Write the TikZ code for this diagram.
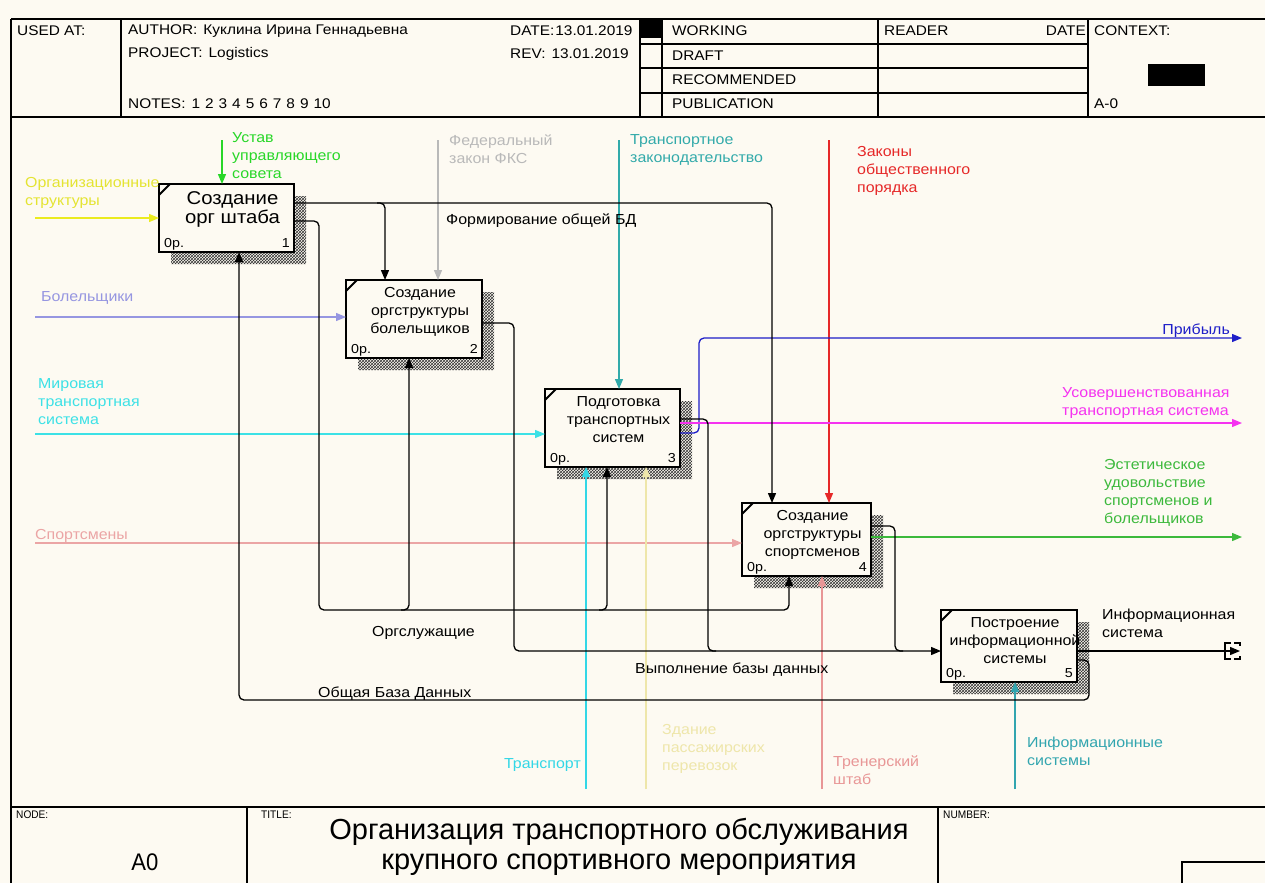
\documentclass[tikz,border=0pt]{standalone}
\usepackage{fontspec}
\setmainfont[FakeStretch=1.1]{Liberation Sans}
\newfontfamily\narrowfont[FakeStretch=0.92]{Liberation Sans}
\newfontfamily\titlefont[FakeStretch=1.0]{Liberation Sans}
\usetikzlibrary{arrows.meta,calc,patterns,backgrounds}

\definecolor{paper}{RGB}{253,250,242}
\definecolor{yelline}{RGB}{235,235,30}
\definecolor{yeltext}{RGB}{228,228,50}
\definecolor{greenctl}{RGB}{40,215,40}
\definecolor{grayctl}{RGB}{185,185,185}
\definecolor{tealctl}{RGB}{50,170,170}
\definecolor{redctl}{RGB}{230,40,40}
\definecolor{lav}{RGB}{150,150,225}
\definecolor{cyanin}{RGB}{60,225,230}
\definecolor{pinkin}{RGB}{235,165,165}
\definecolor{blueout}{RGB}{30,30,200}
\definecolor{magout}{RGB}{245,50,240}
\definecolor{greenout}{RGB}{60,185,60}
\definecolor{paleyel}{RGB}{238,230,170}
\definecolor{tealmech}{RGB}{50,165,175}
\definecolor{cyanmech}{RGB}{50,215,230}
\definecolor{pinkmech}{RGB}{232,150,150}

% IDEF0 function block: name, left, top, width, height, text, number, font
\newcommand\fnbox[8]{%
  \node[fn, minimum width=#4pt, minimum height=#5pt] (#1) at (#2,#3) {};
  \begin{scope}[on background layer]
    \fill[shade] ($(#1.north east)+(0,12)$) -- ($(#1.north east)+(12,12)$)
      -- ($(#1.south east)+(12,12)$) -- ($(#1.south west)+(12,12)$)
      -- ($(#1.south west)+(12,0)$) -- (#1.south east) -- cycle;
  \end{scope}
  \draw[line width=2pt] ($(#1.north west)+(0,11)$) -- ($(#1.north west)+(11,0)$);
  \node[inner sep=0pt, anchor=north, align=center, font=#8] (#1-t) at ($(#1.north)+(6,7)$) {#6};
  \node[inner sep=0pt, anchor=base west, font=\fontsize{13}{13}\selectfont] (#1-c) at ($(#1.south west)+(5,-5)$) {0р.};
  \node[inner sep=0pt, anchor=base east, font=\fontsize{13}{13}\selectfont] (#1-n) at ($(#1.south east)+(-4,-5)$) {#7};
}

\begin{document}
\begin{tikzpicture}[x=1pt,y=-1pt,
  conn/.style={line width=1.3pt, rounded corners=5pt},
  tip/.style={-{Triangle[length=10pt,width=8pt]}},
  fn/.style={draw, line width=2.6pt, fill=paper, inner sep=0pt, outer sep=0pt, anchor=north west},
  shade/.style={pattern=crosshatch, pattern color=black!80},
  lbl/.style={inner sep=0pt, anchor=north west, align=left, font=\fontsize{14.5}{18}\selectfont},
  hdr/.style={inner sep=0pt, anchor=west, font=\fontsize{14}{15}\selectfont},
  frame/.style={line width=1.3pt},
  small/.style={inner sep=0pt, anchor=north west, font=\narrowfont\fontsize{11}{12}\selectfont}]

\useasboundingbox (0,0) rectangle (1265,883);
\begin{scope}[on background layer]
  \fill[paper] (0,0) rectangle (1265,883);
\end{scope}

% ---------- header ----------
\node[hdr] (usedat) at (17,31) {USED AT:};
\node[hdr] (author) at (128,31) {AUTHOR:\hspace{6pt}Куклина Ирина Геннадьевна};
\node[hdr] (project) at (128,54) {PROJECT:\hspace{6pt}Logistics};
\node[hdr] (notes) at (128,104) {NOTES:\hspace{6pt}1\hspace{5pt}2\hspace{5pt}3\hspace{5pt}4\hspace{5pt}5\hspace{5pt}6\hspace{5pt}7\hspace{5pt}8\hspace{5pt}9\hspace{5pt}10};
\node[hdr] (date) at (510,31) {DATE:\hspace{1pt}13.01.2019};
\node[hdr] (rev) at (510,54) {REV:\hspace{6pt}13.01.2019};
\fill (640,19) rectangle (662,38);
\node[hdr] (working) at (672,31) {WORKING};
\node[hdr] (draft) at (672,56) {DRAFT};
\node[hdr] (recom) at (672,80) {RECOMMENDED};
\node[hdr] (publ) at (672,104) {PUBLICATION};
\node[hdr] (reader) at (884,31) {READER};
\node[hdr, anchor=east] (rdate) at (1086,31) {DATE};
\node[hdr] (context) at (1094,31) {CONTEXT:};
\node[hdr] (azero) at (1094,104) {A-0};
\fill (1148,64) rectangle (1205,86);

\draw[line width=1.8pt] (11,19) -- (1265,19);
\draw[line width=1.8pt] (11,117) -- (1265,117);
\draw[frame] (121,19) -- (121,117);
\draw[frame] (640,19) -- (640,117);
\draw[frame] (662,19) -- (662,117);
\draw[frame] (878,19) -- (878,117);
\draw[frame] (1088,19) -- (1088,117);
\draw[frame] (640,44) -- (1088,44);
\draw[frame] (640,68) -- (1088,68);
\draw[frame] (640,93) -- (1088,93);
\draw[line width=2pt] (11,19) -- (11,883);

% ---------- footer ----------
\draw[line width=2pt] (11,807) -- (1265,807);
\draw[frame] (247,807) -- (247,883);
\draw[frame] (938,807) -- (938,883);
\draw[frame] (1182,883) -- (1182,862) -- (1265,862);
\node[small] (nodelbl) at (16,811) {NODE:};
\node[small] (titlelbl) at (261,811) {TITLE:};
\node[small] (numlbl) at (943,811) {NUMBER:};
\node[inner sep=0pt, font=\narrowfont\fontsize{24}{24}\selectfont] (nodeid) at (145,862) {A0};
\node[inner sep=0pt, align=center, font=\titlefont\fontsize{29}{30}\selectfont] (title) at (619,847)
  {Организация транспортного обслуживания\\крупного спортивного мероприятия};

% ---------- function blocks ----------
\fnbox{b1}{159}{184}{135}{68}{Создание\\орг штаба}{1}{\fontsize{18.5}{19}\selectfont}
\fnbox{b2}{346}{280}{136}{78}{Создание\\оргструктуры\\болельщиков}{2}{\fontsize{14.5}{18}\selectfont}
\fnbox{b3}{545}{389}{135}{78}{Подготовка\\транспортных\\систем}{3}{\fontsize{14.5}{18}\selectfont}
\fnbox{b4}{742}{503}{129}{73}{Создание\\оргструктуры\\спортсменов}{4}{\fontsize{14.5}{18}\selectfont}
\fnbox{b5}{941}{610}{136}{72}{Построение\\информационной\\системы}{5}{\fontsize{14.5}{18}\selectfont}

% ---------- inputs ----------
\coordinate (in1) at (35,218);
\draw[conn,tip,yelline] (in1) -- (b1.west |- in1);
\coordinate (in2) at (35,317);
\draw[conn,tip,lav] (in2) -- (b2.west |- in2);
\coordinate (in3) at (35,434);
\draw[conn,tip,cyanin] (in3) -- (b3.west |- in3);
\coordinate (in4) at (35,543);
\draw[conn,tip,pinkin] (in4) -- (b4.west |- in4);

% ---------- controls ----------
\coordinate (ct1) at (222,140);
\draw[conn,tip,greenctl] (ct1) -- (ct1 |- b1.north);
\coordinate (ct2) at (438,140);
\draw[conn,tip,grayctl] (ct2) -- (ct2 |- b2.north);
\coordinate (ct3) at (619,140);
\draw[conn,tip,tealctl] (ct3) -- (ct3 |- b3.north);
\coordinate (ct4) at (829,140);
\draw[conn,tip,redctl] (ct4) -- (ct4 |- b4.north);

% ---------- mechanisms ----------
\coordinate (mc1) at (586,789);
\draw[conn,tip,cyanmech] (mc1) -- (mc1 |- b3.south);
\coordinate (mc2) at (646,789);
\draw[conn,tip,paleyel] (mc2) -- (mc2 |- b3.south);
\coordinate (mc3) at (822,789);
\draw[conn,tip,pinkmech] (mc3) -- (mc3 |- b4.south);
\coordinate (mc4) at (1015,789);
\draw[conn,tip,tealmech] (mc4) -- (mc4 |- b5.south);

% ---------- outputs ----------
\coordinate (pr1) at (699,433);
\coordinate (pr2) at (699,338);
\coordinate (pr3) at (1242,338);
\draw[conn,tip,blueout] (b3.east |- pr1) -- (pr1) -- (pr2) -- (pr3);
\coordinate (ts) at (1242,423);
\draw[conn,tip,magout] (b3.east |- ts) -- (ts);
\coordinate (es) at (1242,537);
\draw[conn,tip,greenout] (b4.east |- es) -- (es);
\coordinate (is) at (1240,651);
\draw[conn,tip] (b5.east |- is) -- (is);
\draw[line width=1.3pt] (1231,643) -- (1225,643) -- (1225,659) -- (1231,659);
\draw[line width=1.3pt] (1234,643) -- (1240,643) -- (1240,646);
\draw[line width=1.3pt] (1240,656) -- (1240,659) -- (1234,659);

% ---------- internal flows ----------
\coordinate (fa) at (772,203);
\coordinate (fb) at (385,203);
\coordinate (fb0) at (377,203);
\draw[conn,tip] (b1.east |- fa) -- (fa) -- (fa |- b4.north);
\draw[conn,tip] (fb0) -- (fb) -- (fb |- b2.north);

\coordinate (oa) at (319,221);
\coordinate (ob) at (319,610);
\coordinate (oc) at (789,610);
\draw[conn,tip] (b1.east |- oa) -- (oa) -- (ob) -- (oc) -- (oc |- b4.south);
\coordinate (od) at (409,610);
\coordinate (od0) at (401,610);
\draw[conn,tip] (od0) -- (od) -- (od |- b2.south);
\coordinate (oe) at (607,610);
\coordinate (oe0) at (599,610);
\draw[conn,tip] (oe0) -- (oe) -- (oe |- b3.south);

\coordinate (va) at (514,323);
\coordinate (vb) at (514,651);
\draw[conn,tip] (b2.east |- va) -- (va) -- (vb) -- (b5.west |- vb);
\coordinate (vc) at (708,419);
\coordinate (vd) at (708,651);
\coordinate (vd1) at (716,651);
\draw[conn] (b3.east |- vc) -- (vc) -- (vd) -- (vd1);
\coordinate (ve) at (895,526);
\coordinate (vf) at (895,651);
\coordinate (vf1) at (903,651);
\draw[conn] (b4.east |- ve) -- (ve) -- (vf) -- (vf1);

\coordinate (ga) at (1089,660);
\coordinate (gb) at (1089,700);
\coordinate (gc) at (239,700);
\draw[conn,tip] (b5.east |- ga) -- (ga) -- (gb) -- (gc) -- (gc |- b1.south);

% ---------- arrow labels ----------
\node[lbl, yeltext] (l-org) at (25,177) {Организационные\\структуры};
\node[lbl, greenctl] (l-ust) at (232,132) {Устав\\управляющего\\совета};
\node[lbl, lav] (l-bol) at (41,291) {Болельщики};
\node[lbl, grayctl] (l-fed) at (449,135) {Федеральный\\закон ФКС};
\node[lbl, tealctl] (l-trz) at (630,134) {Транспортное\\законодательство};
\node[lbl, redctl] (l-zak) at (857,146) {Законы\\общественного\\порядка};
\node[lbl, cyanin] (l-mir) at (38,378) {Мировая\\транспортная\\система};
\node[lbl, pinkin] (l-spo) at (35,529) {Спортсмены};
\node[lbl, blueout, anchor=north east] (l-pri) at (1230,324) {Прибыль};
\node[lbl, magout] (l-usv) at (1062,387) {Усовершенствованная\\транспортная система};
\node[lbl, greenout] (l-est) at (1104,459) {Эстетическое\\удовольствие\\спортсменов и\\болельщиков};
\node[lbl] (l-ins) at (1102,609) {Информационная\\система};
\node[lbl, tealmech] (l-inf) at (1027,737) {Информационные\\системы};
\node[lbl, pinkmech] (l-tre) at (833,756) {Тренерский\\штаб};
\node[lbl, paleyel] (l-zda) at (662,724) {Здание\\пассажирских\\перевозок};
\node[lbl, cyanmech, anchor=north east] (l-trn) at (581,758) {Транспорт};
\node[lbl] (l-frm) at (446,214) {Формирование общей БД};
\node[lbl] (l-osl) at (372,626) {Оргслужащие};
\node[lbl] (l-vyp) at (635,663) {Выполнение базы данных};
\node[lbl] (l-obd) at (318,687) {Общая База Данных};
\end{tikzpicture}
\end{document}
